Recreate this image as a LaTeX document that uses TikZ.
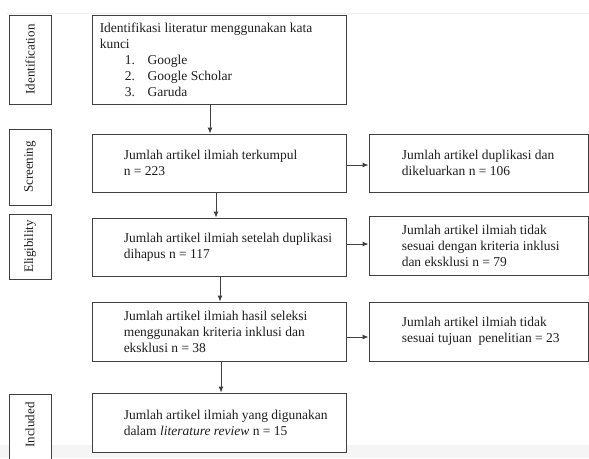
\documentclass[tikz,border=0pt]{standalone}
\usepackage{fontspec}
\usepackage{graphicx}
\setmainfont{Liberation Serif}
\usetikzlibrary{arrows.meta}
\definecolor{ln}{HTML}{404040}
\definecolor{tx}{HTML}{1E1E1E}
\definecolor{band}{HTML}{F5F5F5}
\definecolor{topln}{HTML}{EDEDED}
\begin{document}
\begin{tikzpicture}[x=1pt,y=-1pt,
  box/.style={draw=ln,line width=0.9pt,fill=white,inner sep=0pt,minimum width=254pt},
  rbox/.style={box,minimum width=219pt},
  side/.style={box,minimum width=42pt,font=\fontsize{13}{15}\selectfont,text=tx},
  txt/.style={anchor=west,align=left,inner sep=0pt,text=tx,font=\fontsize{13.5}{16}\selectfont},
  arr/.style={draw=ln,line width=0.9pt,-{Latex[length=6pt,width=5pt]}}]
\useasboundingbox (0,0) rectangle (589,458);
\fill[band] (0,445) rectangle (589,458);
\draw[topln,line width=1pt] (7,13) -- (589,13);

% side labels
\node[side,minimum height=89pt] (s1) at (30,59.5) {\rotatebox{90}{Identification}};
\node[side,minimum height=76pt] (s2) at (30,167) {\rotatebox{90}{Screening}};
\node[side,minimum height=65pt] (s3) at (30,246.5) {\rotatebox{90}{Eligibility}};
\node[side,minimum height=74pt] (s4) at (30,431) {};
\node[font=\fontsize{13}{15}\selectfont,text=tx,inner sep=0pt] (s4t) at (30,425) {\rotatebox{90}{Included}};

% main boxes
\node[box,minimum height=89pt] (m1) at (219,59.5) {};
\node[box,minimum height=58pt] (m2) at (219,163) {};
\node[box,minimum height=58pt] (m3) at (219,247) {};
\node[box,minimum height=59pt] (m4) at (219,331.5) {};
\node[box,minimum height=59pt] (m5) at (219,422.5) {};

% right boxes
\node[rbox,minimum height=58pt] (r1) at (478.5,163) {};
\node[rbox,minimum height=59pt] (r2) at (478.5,245.5) {};
\node[rbox,minimum height=59pt] (r3) at (478.5,331.5) {};

% texts
\node[txt] (t1) at ([xshift=8pt]m1.west) {Identifikasi literatur menggunakan kata\\kunci\\
\hspace*{25pt}\makebox[23pt][l]{1.}Google\\
\hspace*{25pt}\makebox[23pt][l]{2.}Google Scholar\\
\hspace*{25pt}\makebox[23pt][l]{3.}Garuda};
\node[txt] (t2) at ([xshift=32pt]m2.west) {Jumlah artikel ilmiah terkumpul\\n = 223};
\node[txt] (t3) at ([xshift=32pt]m3.west) {Jumlah artikel ilmiah setelah duplikasi\\dihapus n = 117};
\node[txt] (t4) at ([xshift=32pt]m4.west) {Jumlah artikel ilmiah hasil seleksi\\menggunakan kriteria inklusi dan\\eksklusi n = 38};
\node[txt] (t5) at ([xshift=32pt]m5.west) {Jumlah artikel ilmiah yang digunakan\\dalam \textit{literature review} n = 15};
\node[txt] (u1) at ([xshift=33pt]r1.west) {Jumlah artikel duplikasi dan\\dikeluarkan n = 106};
\node[txt] (u2) at ([xshift=33pt]r2.west) {Jumlah artikel ilmiah tidak\\sesuai dengan kriteria inklusi\\dan eksklusi n = 79};
\node[txt] (u3) at ([xshift=33pt]r3.west) {Jumlah artikel ilmiah tidak\\sesuai tujuan\ \ penelitian = 23};

% arrow guides
\coordinate (v1) at (210,0);
\coordinate (v2) at (216,0);
\coordinate (v3) at (220,0);
\coordinate (v4) at (221,0);
\coordinate (h1) at (0,165);
\coordinate (h2) at (0,244);
\coordinate (h3) at (0,337);

\draw[arr] (m1.south -| v1) -- (m2.north -| v1);
\draw[arr] (m2.south -| v2) -- (m3.north -| v2);
\draw[arr] (m3.south -| v3) -- (m4.north -| v3);
\draw[arr] (m4.south -| v4) -- (m5.north -| v4);
\draw[arr] (m2.east |- h1) -- (r1.west |- h1);
\draw[arr] (m3.east |- h2) -- (r2.west |- h2);
\draw[arr] (m4.east |- h3) -- (r3.west |- h3);
\end{tikzpicture}
\end{document}
